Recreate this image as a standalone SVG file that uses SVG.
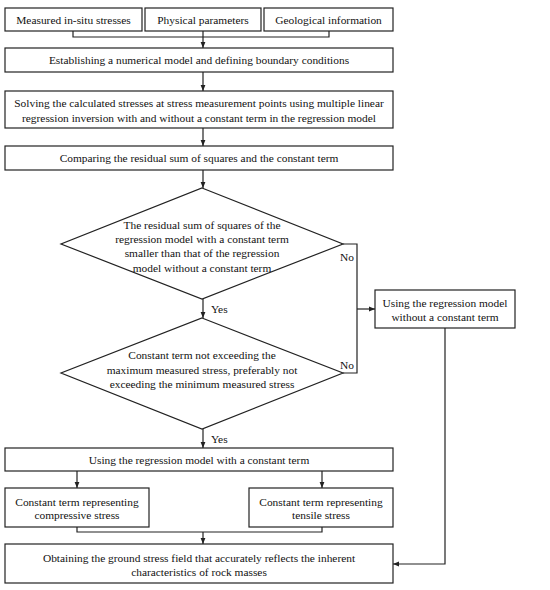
<svg xmlns="http://www.w3.org/2000/svg" width="550" height="590" viewBox="0 0 550 590">
<defs>
<marker id="ah" viewBox="0 0 10 10" refX="10" refY="5" markerWidth="6" markerHeight="6" markerUnits="userSpaceOnUse" orient="auto">
<path d="M0,1 L10,5 L0,9 z" fill="#222"/>
</marker>
<style>
.b{fill:#fff;stroke:#222;stroke-width:1.2}
.t{font-family:"Liberation Serif","Times New Roman",serif;font-size:11.4px;fill:#111;text-anchor:middle}
.l{font-family:"Liberation Serif","Times New Roman",serif;font-size:11.4px;fill:#111}
.c{fill:none;stroke:#222;stroke-width:1.2}
.a{fill:none;stroke:#222;stroke-width:1.2;marker-end:url(#ah)}
</style>
</defs>
<rect width="550" height="590" fill="#fff"/>
<g id="n1"><rect class="b" x="5" y="8" width="137" height="23"/><text class="t" x="73.5" y="23.5">Measured in-situ stresses</text></g>
<g id="n2"><rect class="b" x="145" y="8" width="116" height="23"/><text class="t" x="203" y="23.5">Physical parameters</text></g>
<g id="n3"><rect class="b" x="264" y="8" width="129" height="23"/><text class="t" x="328.5" y="23.5">Geological information</text></g>
<g id="n4"><rect class="b" x="5" y="48" width="388" height="24"/><text class="t" x="199" y="64">Establishing a numerical model and defining boundary conditions</text></g>
<g id="n5"><rect class="b" x="5" y="91" width="388" height="37"/><text class="t" x="199" y="107">Solving the calculated stresses at stress measurement points using multiple linear</text><text class="t" x="199" y="122">regression inversion with and without a constant term in the regression model</text></g>
<g id="n6"><rect class="b" x="5" y="146" width="388" height="24"/><text class="t" x="199" y="162">Comparing the residual sum of squares and the constant term</text></g>
<g id="n7"><polygon class="b" points="202,188 343,244 202,299 61,244"/><text class="t" x="202" y="229">The residual sum of squares of the</text><text class="t" x="202" y="243">regression model with a constant term</text><text class="t" x="202" y="257">smaller than that of the regression</text><text class="t" x="202" y="272">model without a constant term</text></g>
<g id="n8"><rect class="b" x="375" y="290" width="140" height="38"/><text class="t" x="445" y="307">Using the regression model</text><text class="t" x="445" y="321">without a constant term</text></g>
<g id="n9"><polygon class="b" points="202,318 343,373 202,429 61,373"/><text class="t" x="202" y="359">Constant term not exceeding the</text><text class="t" x="202" y="374">maximum measured stress, preferably not</text><text class="t" x="202" y="388">exceeding the minimum measured stress</text></g>
<g id="n10"><rect class="b" x="5" y="448" width="388" height="23"/><text class="t" x="199" y="464">Using the regression model with a constant term</text></g>
<g id="n11"><rect class="b" x="5" y="488" width="144" height="39"/><text class="t" x="77" y="506">Constant term representing</text><text class="t" x="77" y="519">compressive stress</text></g>
<g id="n12"><rect class="b" x="249" y="488" width="144" height="39"/><text class="t" x="321" y="506">Constant term representing</text><text class="t" x="321" y="519">tensile stress</text></g>
<g id="n13"><rect class="b" x="5" y="544" width="388" height="39"/><text class="t" x="199" y="562">Obtaining the ground stress field that accurately reflects the inherent</text><text class="t" x="199" y="576">characteristics of rock masses</text></g>
<g id="connectors">
<polyline class="c" points="73,31 73,37 329,37 329,31"/>
<line class="a" x1="203" y1="31" x2="203" y2="48"/>
<line class="a" x1="203" y1="72" x2="203" y2="91"/>
<line class="a" x1="203" y1="128" x2="203" y2="146"/>
<line class="a" x1="203" y1="170" x2="203" y2="188"/>
<polyline class="c" points="343,244 357,244 357,373 343,373"/>
<line class="a" x1="357" y1="309" x2="375" y2="309"/>
<line class="a" x1="203" y1="299" x2="203" y2="318"/>
<line class="a" x1="203" y1="429" x2="203" y2="448"/>
<line class="a" x1="77" y1="471" x2="77" y2="488"/>
<line class="a" x1="322" y1="471" x2="322" y2="488"/>
<polyline class="c" points="77,527 77,532 322,532 322,527"/>
<line class="a" x1="203" y1="532" x2="203" y2="544"/>
<polyline class="a" points="445,328 445,564 393,564"/>
<text class="l" x="340" y="261">No</text>
<text class="l" x="340" y="369">No</text>
<text class="l" x="211" y="313">Yes</text>
<text class="l" x="211" y="443">Yes</text>
</g>
</svg>
